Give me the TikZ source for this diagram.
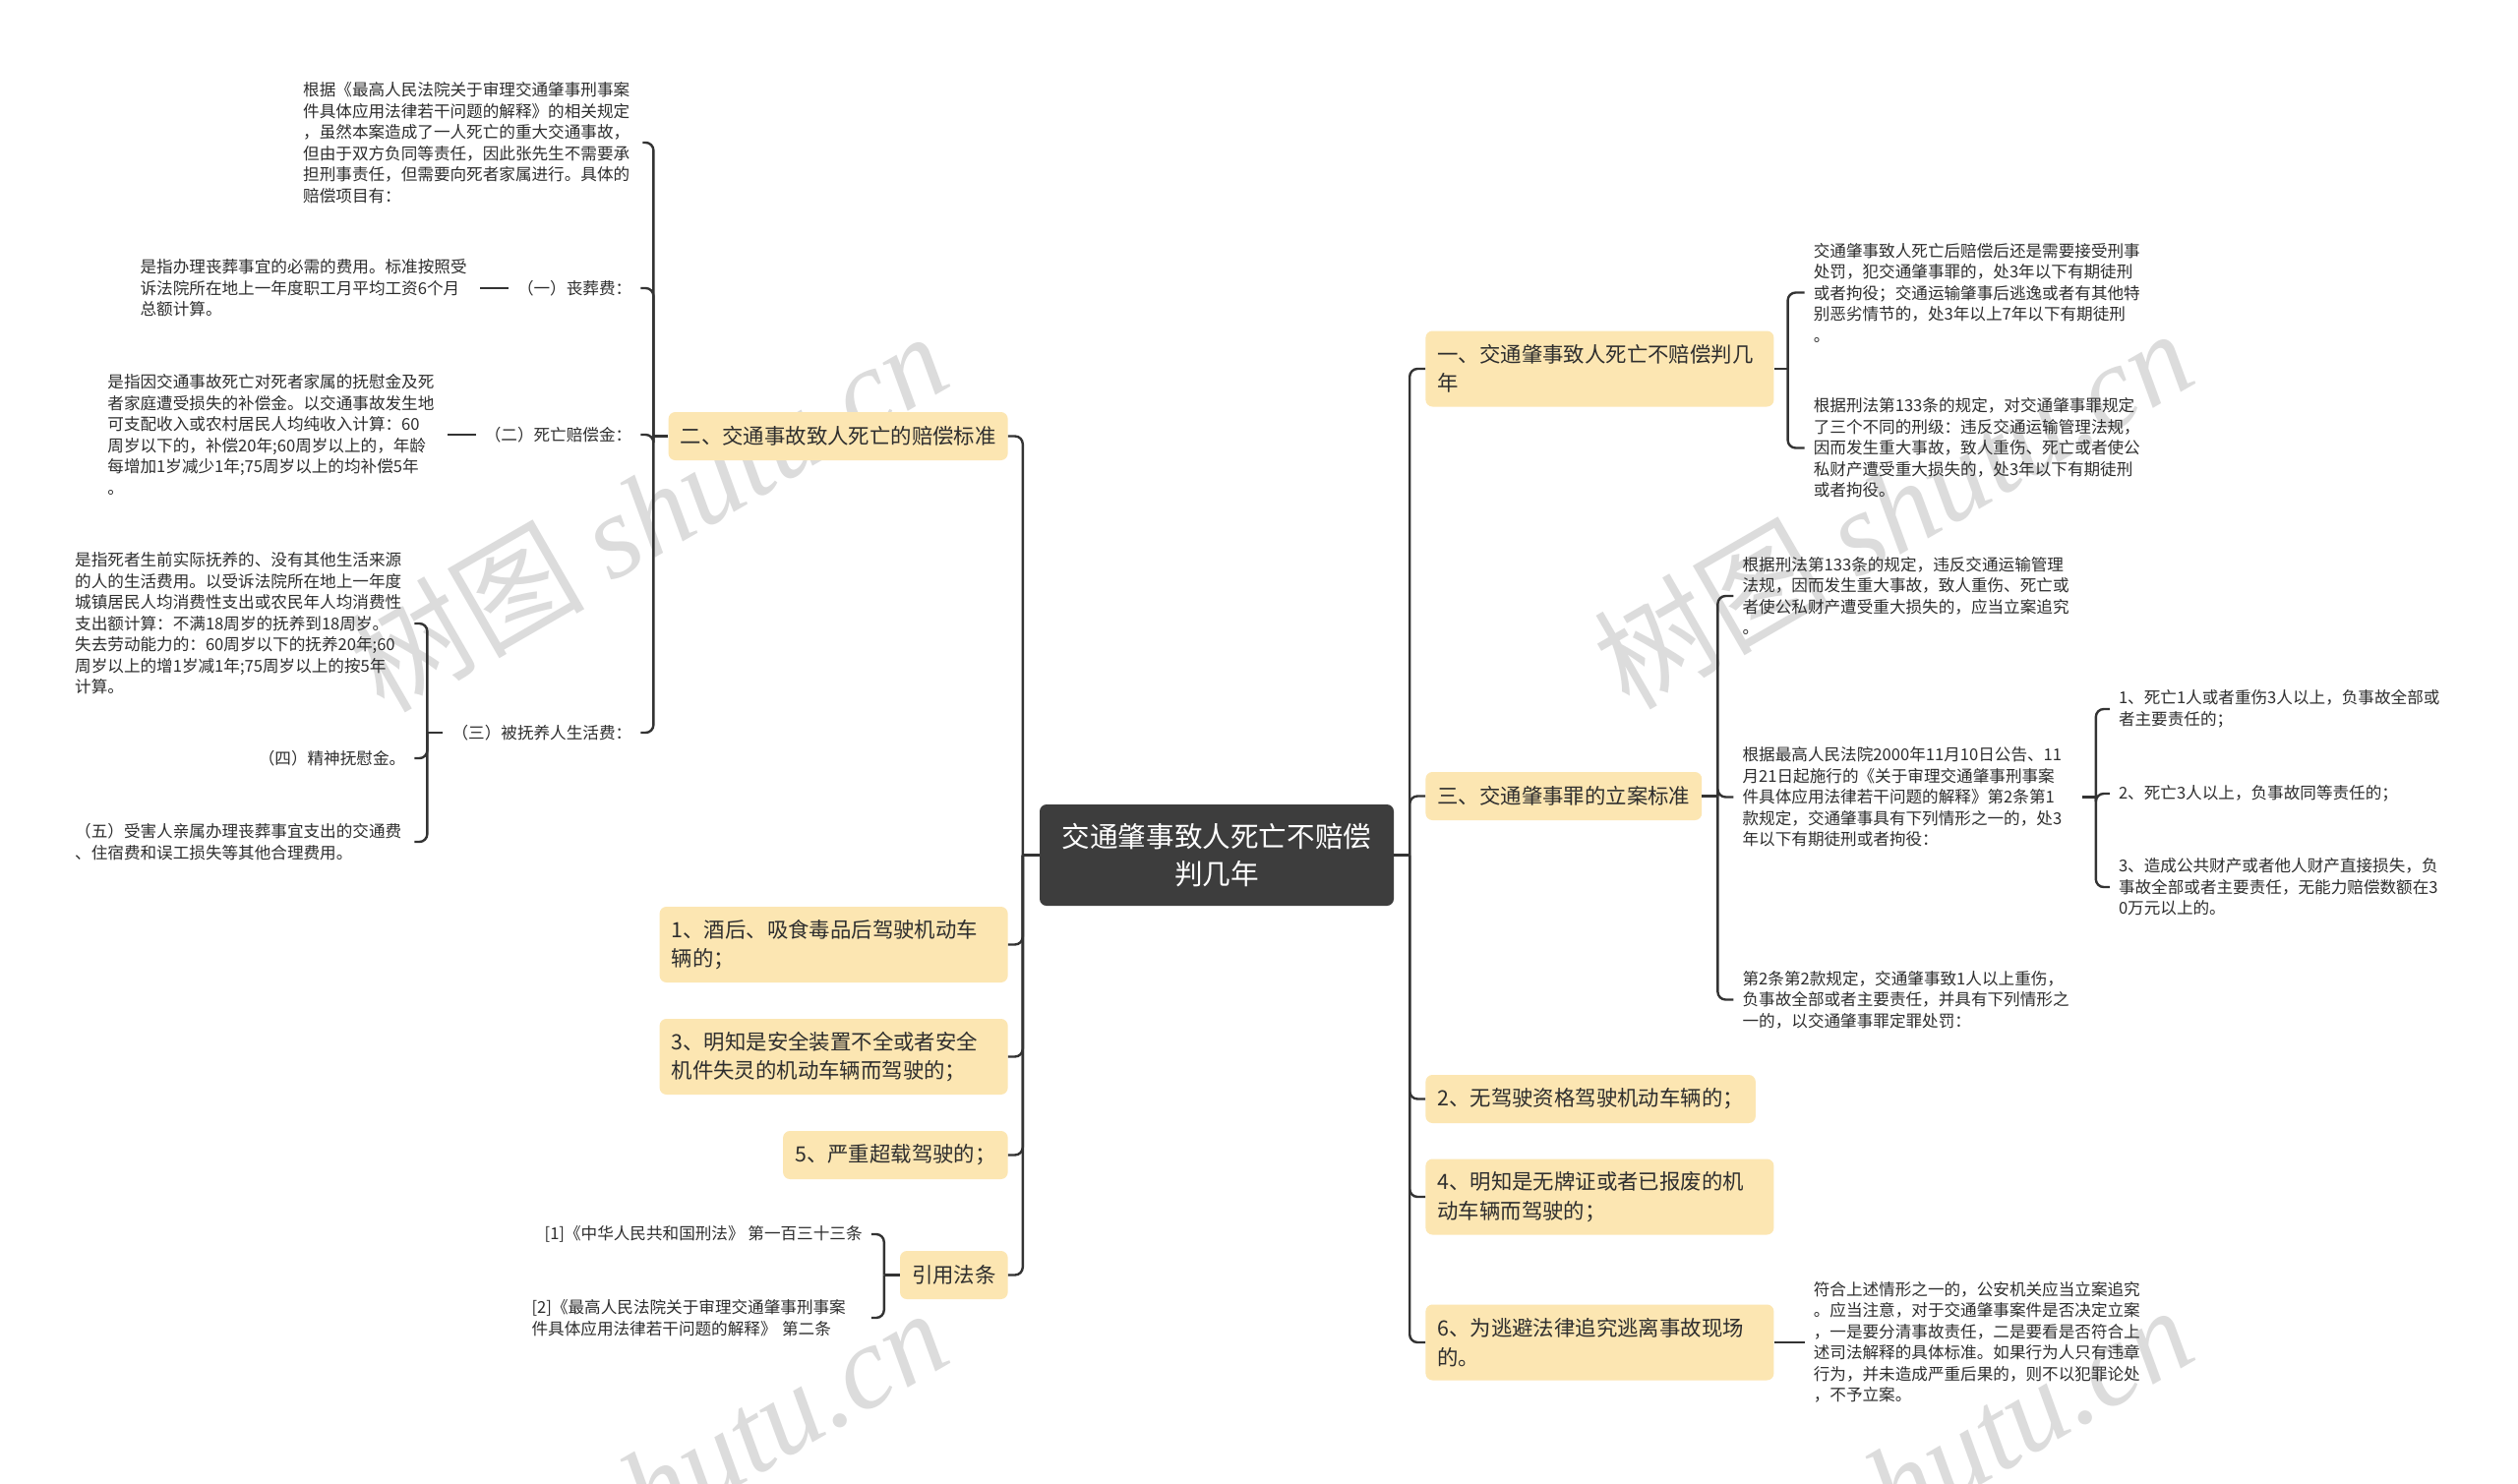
\documentclass[tikz,border=0pt]{standalone}
\usepackage{fontspec}
\setmainfont{Noto Sans CJK SC}
\newfontfamily\markfont{Liberation Serif}
\usetikzlibrary{positioning}
\definecolor{MapInk}{HTML}{2E2E2E}
\definecolor{MapLine}{HTML}{333333}
\definecolor{MapRoot}{HTML}{3D3D3D}
\definecolor{MapYellow}{HTML}{FCE6B2}
\definecolor{MapMark}{HTML}{DCDCDC}

\begin{document}
\begin{tikzpicture}[x=1pt,y=1pt,
  root/.style={rectangle,rounded corners=7pt,fill=MapRoot,text=white,align=center,minimum width=360pt,minimum height=103pt,font=\fontsize{28.6}{37.5}\selectfont},
  branch/.style={rectangle,rounded corners=7pt,fill=MapYellow,text=MapInk,align=left,inner xsep=12pt,inner ysep=6pt,minimum height=49pt,font=\fontsize{21.4}{29.4}\selectfont},
  widebranch/.style={branch,text width=330pt,minimum height=77pt},
  tag/.style={text=MapInk,inner xsep=9pt,inner ysep=3pt,font=\fontsize{16.6}{21.5}\selectfont},
  note/.style={tag,align=left,text width=336pt},
  link/.style={draw=MapLine,line width=2.4pt,rounded corners=8pt},
  wmark/.style={text=MapMark,rotate=30,font=\fontsize{120}{120}\selectfont}
]
\useasboundingbox (0,0) rectangle (2560,-1509);
\fill[white] (0,0) rectangle (2560,-1509);
\begin{scope}
\clip (0,0) rectangle (2560,-1509);
\node[wmark] (markA) at (658,-519) {树图 {\markfont\itshape shutu.cn}};
\node[wmark] (markB) at (1924,-516) {树图 {\markfont\itshape shutu.cn}};
\node[wmark] (markC) at (658,-1512) {树图 {\markfont\itshape shutu.cn}};
\node[wmark] (markD) at (1924,-1509) {树图 {\markfont\itshape shutu.cn}};
\end{scope}

\node[root] (root) at (1237,-869.5) {交通肇事致人死亡不赔偿\\判几年};

% left branches
\node[branch,left=32pt of root,yshift=426pt] (comp) {二、交通事故致人死亡的赔偿标准};
\node[widebranch,left=32pt of root,yshift=-91pt] (drunk) {1、酒后、吸食毒品后驾驶机动车\\辆的；};
\node[widebranch,left=32pt of root,yshift=-205pt] (unsafe) {3、明知是安全装置不全或者安全\\机件失灵的机动车辆而驾驶的；};
\node[branch,left=32pt of root,yshift=-305pt] (overload) {5、严重超载驾驶的；};
\node[branch,left=32pt of root,yshift=-427pt] (refs) {引用法条};

% right branches
\node[widebranch,right=32pt of root,yshift=494.5pt] (sentence) {一、交通肇事致人死亡不赔偿判几\\年};
\node[branch,right=32pt of root,yshift=60pt] (filing) {三、交通肇事罪的立案标准};
\node[branch,right=32pt of root,yshift=-248pt] (nolicense) {2、无驾驶资格驾驶机动车辆的；};
\node[widebranch,right=32pt of root,yshift=-347.5pt] (scrapped) {4、明知是无牌证或者已报废的机\\动车辆而驾驶的；};
\node[widebranch,right=32pt of root,yshift=-495.5pt] (flee) {6、为逃避法律追究逃离事故现场\\的。};

% compensation items
\node[note,left=26pt of comp,yshift=298.5pt] (basis) {根据《最高人民法院关于审理交通肇事刑事案\\件具体应用法律若干问题的解释》的相关规定\\，虽然本案造成了一人死亡的重大交通事故，\\但由于双方负同等责任，因此张先生不需要承\\担刑事责任，但需要向死者家属进行。具体的\\赔偿项目有：};
\node[tag,left=28pt of comp,yshift=150.5pt] (funeral) {（一）丧葬费：};
\node[note,left=29pt of funeral] (funeralnote) {是指办理丧葬事宜的必需的费用。标准按照受\\诉法院所在地上一年度职工月平均工资6个月\\总额计算。};
\node[tag,left=28pt of comp,yshift=1.5pt] (deathpay) {（二）死亡赔偿金：};
\node[note,left=29pt of deathpay] (deathpaynote) {是指因交通事故死亡对死者家属的抚慰金及死\\者家庭遭受损失的补偿金。以交通事故发生地\\可支配收入或农村居民人均纯收入计算：60\\周岁以下的，补偿20年;60周岁以上的，年龄\\每增加1岁减少1年;75周岁以上的均补偿5年\\。};
\node[tag,left=28pt of comp,yshift=-301.5pt] (support) {（三）被抚养人生活费：};
\node[note,left=29pt of support,yshift=111pt] (supportnote) {是指死者生前实际抚养的、没有其他生活来源\\的人的生活费用。以受诉法院所在地上一年度\\城镇居民人均消费性支出或农民年人均消费性\\支出额计算：不满18周岁的抚养到18周岁。\\失去劳动能力的：60周岁以下的抚养20年;60\\周岁以上的增1岁减1年;75周岁以上的按5年\\计算。};
\node[tag,left=29pt of support,yshift=-26pt] (solace) {（四）精神抚慰金。};
\node[note,left=29pt of support,yshift=-111pt] (otherfees) {（五）受害人亲属办理丧葬事宜支出的交通费\\、住宿费和误工损失等其他合理费用。};

% cited laws
\node[tag,left=29pt of refs,yshift=41.5pt] (law1) {[1]《中华人民共和国刑法》 第一百三十三条};
\node[note,left=29pt of refs,yshift=-43.5pt] (law2) {[2]《最高人民法院关于审理交通肇事刑事案\\件具体应用法律若干问题的解释》 第二条};

% sentence notes
\node[note,right=31pt of sentence,yshift=77.5pt] (penalty) {交通肇事致人死亡后赔偿后还是需要接受刑事\\处罚，犯交通肇事罪的，处3年以下有期徒刑\\或者拘役；交通运输肇事后逃逸或者有其他特\\别恶劣情节的，处3年以上7年以下有期徒刑\\。};
\node[note,right=31pt of sentence,yshift=-80.5pt] (grades) {根据刑法第133条的规定，对交通肇事罪规定\\了三个不同的刑级：违反交通运输管理法规，\\因而发生重大事故，致人重伤、死亡或者使公\\私财产遭受重大损失的，处3年以下有期徒刑\\或者拘役。};

% filing notes
\node[note,right=32pt of filing,yshift=203.5pt] (filingrule) {根据刑法第133条的规定，违反交通运输管理\\法规，因而发生重大事故，致人重伤、死亡或\\者使公私财产遭受重大损失的，应当立案追究\\。};
\node[note,right=32pt of filing,yshift=-1pt] (interp) {根据最高人民法院2000年11月10日公告、11\\月21日起施行的《关于审理交通肇事刑事案\\件具体应用法律若干问题的解释》第2条第1\\款规定，交通肇事具有下列情形之一的，处3\\年以下有期徒刑或者拘役：};
\node[note,right=32pt of filing,yshift=-207pt] (injury) {第2条第2款规定，交通肇事致1人以上重伤，\\负事故全部或者主要责任，并具有下列情形之\\一的，以交通肇事罪定罪处罚：};
\node[note,right=28pt of interp,yshift=89.5pt] (case1) {1、死亡1人或者重伤3人以上，负事故全部或\\者主要责任的；};
\node[tag,right=28pt of interp,yshift=3.5pt] (case2) {2、死亡3人以上，负事故同等责任的；};
\node[note,right=28pt of interp,yshift=-91.5pt] (case3) {3、造成公共财产或者他人财产直接损失，负\\事故全部或者主要责任，无能力赔偿数额在3\\0万元以上的。};
\node[note,right=31pt of flee] (fleenote) {符合上述情形之一的，公安机关应当立案追究\\。应当注意，对于交通肇事案件是否决定立案\\，一是要分清事故责任，二是要看是否符合上\\述司法解释的具体标准。如果行为人只有违章\\行为，并未造成严重后果的，则不以犯罪论处\\，不予立案。};

% junction points
\coordinate[left=17pt of root] (rootL);
\coordinate[right=16pt of root] (rootR);
\coordinate[left=15pt of comp] (compL);
\coordinate[left=16pt of refs] (refsL);
\coordinate[left=16pt of support] (supportL);
\coordinate[right=14pt of sentence] (sentenceR);
\coordinate[right=16pt of filing] (filingR);
\coordinate[right=14pt of interp] (interpR);

\draw[link] (root) -- (rootL);
\draw[link] (rootL) |- (comp);
\draw[link] (rootL) |- (drunk);
\draw[link] (rootL) |- (unsafe);
\draw[link] (rootL) |- (overload);
\draw[link] (rootL) |- (refs);
\draw[link] (root) -- (rootR);
\draw[link] (rootR) |- (sentence);
\draw[link] (rootR) |- (filing);
\draw[link] (rootR) |- (nolicense);
\draw[link] (rootR) |- (scrapped);
\draw[link] (rootR) |- (flee);

\draw[link] (comp) -- (compL);
\draw[link] (compL) |- (basis);
\draw[link] (compL) |- (funeral);
\draw[link] (compL) |- (deathpay);
\draw[link] (compL) |- (support);
\draw[link] (funeral) -- (funeralnote);
\draw[link] (deathpay) -- (deathpaynote);
\draw[link] (support) -- (supportL);
\draw[link] (supportL) |- (supportnote);
\draw[link] (supportL) |- (solace);
\draw[link] (supportL) |- (otherfees);
\draw[link] (refs) -- (refsL);
\draw[link] (refsL) |- (law1);
\draw[link] (refsL) |- (law2);

\draw[link] (sentence) -- (sentenceR);
\draw[link] (sentenceR) |- (penalty);
\draw[link] (sentenceR) |- (grades);
\draw[link] (filing) -- (filingR);
\draw[link] (filingR) |- (filingrule);
\draw[link] (filingR) |- (interp);
\draw[link] (filingR) |- (injury);
\draw[link] (interp) -- (interpR);
\draw[link] (interpR) |- (case1);
\draw[link] (interpR) |- (case2);
\draw[link] (interpR) |- (case3);
\draw[link] (flee) -- (fleenote);
\end{tikzpicture}
\end{document}
